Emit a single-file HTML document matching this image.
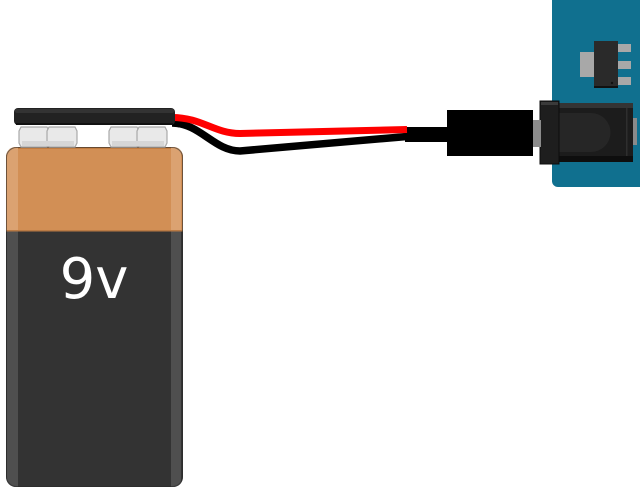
<!DOCTYPE html>
<html>
<head>
<meta charset="utf-8">
<style>
  html, body { margin:0; padding:0; background:#fff; }
  body { width:640px; height:492px; overflow:hidden; }
  svg { display:block; }
</style>
</head>
<body>
<svg width="640" height="492" viewBox="0 0 640 492" xmlns="http://www.w3.org/2000/svg">
  <defs>
    <clipPath id="bat">
      <rect x="6" y="147" width="177" height="340" rx="10" ry="10"/>
    </clipPath>
  </defs>

  <!-- Blue board -->
  <rect x="552" y="-10" width="100" height="197" rx="6" ry="6" fill="#10708f"/>
  <!-- regulator -->
  <rect x="580" y="52" width="15" height="25" fill="#a8a8a8"/>
  <rect x="617" y="44" width="14" height="8" fill="#a8a8a8"/>
  <rect x="617" y="61" width="14" height="8" fill="#a8a8a8"/>
  <rect x="617" y="77" width="14" height="8" fill="#a8a8a8"/>
  <rect x="594" y="41" width="24" height="47" fill="#2a2a2a"/>
  <rect x="594" y="86" width="24" height="2" fill="#111"/>
  <circle cx="612" cy="83" r="1.2" fill="#111"/>

  <!-- Jack -->
  <rect x="633" y="118" width="4" height="27" fill="#8a8a8a"/>
  <rect x="559" y="103" width="74" height="59" fill="#1c1c1c"/>
  <rect x="559" y="103" width="74" height="5" fill="#343434"/>
  <rect x="559" y="156" width="74" height="6" fill="#0e0e0e"/>
  <path d="M559,113 H591 A19.5,19.5 0 0 1 591,152 H559 Z" fill="#262626"/>
  <rect x="626" y="108" width="1.5" height="48" fill="#2e2e2e"/>
  <rect x="540" y="101" width="19" height="63" fill="#1e1e1e" stroke="#0c0c0c" stroke-width="1"/>
  <rect x="541" y="102" width="17" height="3" fill="#3a3a3a"/>

  <!-- Plug -->
  <rect x="533" y="120" width="8" height="27" fill="#8c8c8c"/>
  <rect x="447" y="110" width="86" height="46" fill="#000"/>
  <rect x="405" y="127" width="43" height="15" fill="#000"/>

  <!-- Wires -->
  <path d="M172,123 C200,123 214,151 240,151 L407,136.5" fill="none" stroke="#000" stroke-width="7.5"/>
  <path d="M172,117.5 C202,117.5 214,133.5 240,133.5 L407,129.5" fill="none" stroke="#ff0000" stroke-width="7"/>

  <!-- Battery body -->
  <g clip-path="url(#bat)">
    <rect x="6" y="147" width="177" height="340" fill="#333333"/>
    <rect x="6" y="147" width="177" height="84" fill="#d28f55"/>
    <rect x="6" y="147" width="177" height="2" fill="#c27c40"/>
    <!-- stripes -->
    <rect x="7" y="147" width="11" height="84" fill="#dba271"/>
    <rect x="171" y="147" width="10" height="84" fill="#dba271"/>
    <rect x="7" y="231" width="11" height="256" fill="#4f4f4f"/>
    <rect x="171" y="231" width="10" height="256" fill="#4f4f4f"/>
    <rect x="6" y="230" width="177" height="1.5" fill="#b97a44"/>
  </g>
  <rect x="6.5" y="147.5" width="176" height="339" rx="10" ry="10" fill="none" stroke="#2a2a2a" stroke-width="1" opacity="0.6"/>

  <!-- Terminals -->
  <g fill="#e9e9e9" stroke="#a9a9a9" stroke-width="1.2">
    <path d="M21,127 H47 L49,131 V143 L47,147 H21 L19,143 V131 Z"/>
    <path d="M49,127 H75 L77,131 V143 L75,147 H49 L47,143 V131 Z"/>
    <path d="M111,127 H137 L139,131 V143 L137,147 H111 L109,143 V131 Z"/>
    <path d="M139,127 H165 L167,131 V143 L165,147 H139 L137,143 V131 Z"/>
  </g>
  <g fill="#d6d6d6" stroke="none">
    <rect x="22" y="141" width="52" height="5"/>
    <rect x="112" y="141" width="52" height="5"/>
  </g>

  <!-- Snap cap -->
  <rect x="14" y="108" width="161" height="17" rx="4" ry="4" fill="#222"/>
  <rect x="15" y="109" width="159" height="4" rx="2" ry="2" fill="#333"/>
  <rect x="16" y="123" width="157" height="2" fill="#111"/>

  <!-- Label -->
  <text x="94" y="298" text-anchor="middle" font-family="'DejaVu Sans', 'Liberation Sans', sans-serif" font-size="56" fill="#ffffff">9v</text>
</svg>
</body>
</html>
